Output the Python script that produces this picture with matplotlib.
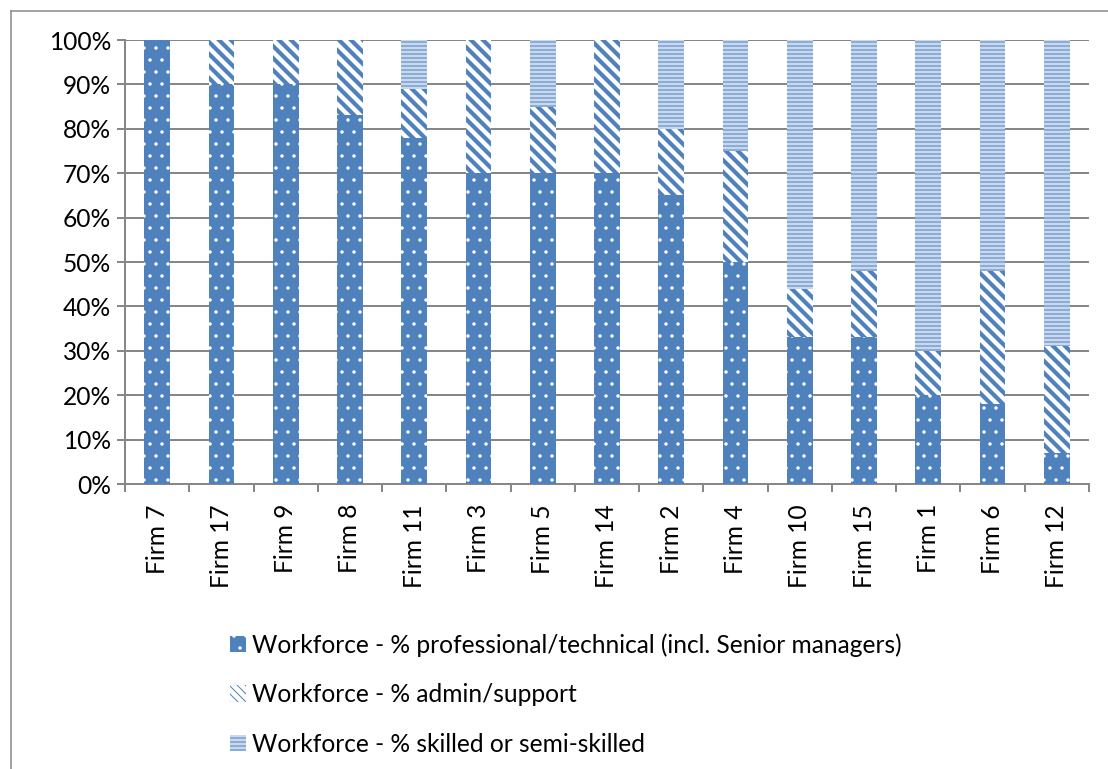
import matplotlib
matplotlib.use("Agg")
import matplotlib.pyplot as plt
from matplotlib.lines import Line2D
from matplotlib.patches import Patch
from matplotlib.collections import LineCollection
from matplotlib.transforms import IdentityTransform, Bbox
import numpy as np

categories = ["Firm 7", "Firm 17", "Firm 9", "Firm 8", "Firm 11", "Firm 3", "Firm 5",
              "Firm 14", "Firm 2", "Firm 4", "Firm 10", "Firm 15", "Firm 1", "Firm 6", "Firm 12"]
professional = [100, 90, 90, 83, 78, 70, 70, 70, 65, 50, 33, 33, 20, 18, 7]
admin = [0, 10, 10, 17, 11, 30, 15, 30, 15, 25, 11, 15, 10, 30, 24]
skilled = [0, 0, 0, 0, 11, 0, 15, 0, 20, 25, 56, 52, 70, 52, 69]
series_labels = ["Workforce - % professional/technical (incl. Senior managers)",
                 "Workforce - % admin/support",
                 "Workforce - % skilled or semi-skilled"]
yticks = [0, 10, 20, 30, 40, 50, 60, 70, 80, 90, 100]

plt.rcParams['font.family'] = ['Lato', 'DejaVu Sans']
plt.rcParams['hatch.linewidth'] = 1.0

DPI = 72
W, H = 1108, 769
FS = 24.5
fig = plt.figure(figsize=(W / DPI, H / DPI), dpi=DPI)
fig.patch.set_facecolor('white')

L, R, T, B = 125, 1089, 40, 484
ax = fig.add_axes([L / W, 1 - B / H, (R - L) / W, (B - T) / H])

grey = '#878787'
blue = '#4F81BD'
x = np.arange(len(categories))
prof = np.array(professional)
adm = np.array(admin)
skl = np.array(skilled)

ax.set_xlim(-0.5, len(categories) - 0.5)
ax.set_ylim(0, 100)

b1 = ax.bar(x, prof, 0.4, color=blue, edgecolor='white', linewidth=0,
            hatch='.', label=series_labels[0], zorder=3)
b2 = ax.bar(x, adm, 0.4, bottom=prof, color='white', linewidth=0,
            label=series_labels[1], zorder=3)
b3 = ax.bar(x, skl, 0.4, bottom=prof + adm, color='#c9d8ec', edgecolor='#4F81BD', linewidth=0,
            hatch='---', label=series_labels[2], zorder=3)

# thick diagonal stripes for the admin/support segments, clipped to each bar
period = 12.0
stripe_lw = 4.2
for rect in b2:
    if rect.get_height() <= 0:
        continue
    bb = rect.get_window_extent(renderer=None)
    cmin = bb.x0 + bb.y0 - period
    cmax = bb.x1 + bb.y1 + period
    segs = []
    for c in np.arange(np.floor(cmin / period) * period, cmax, period):
        xa, xb = bb.x0 - 10, bb.x1 + 10
        segs.append([(xa, c - xa), (xb, c - xb)])
    lc = LineCollection(segs, colors=blue, linewidths=stripe_lw,
                        transform=IdentityTransform(), zorder=3.5)
    ax.add_collection(lc, autolim=False)
    lc.set_clip_path(None)
    lc.set_clip_box(Bbox.from_extents(bb.x0, bb.y0, bb.x1, bb.y1))
    lc.set_clip_on(True)

ax.set_yticks(yticks)
ax.set_yticklabels([f"{v}%" for v in yticks], fontsize=FS)
ax.yaxis.grid(True, color=grey, linewidth=2, zorder=0)
ax.set_axisbelow(True)

ax.set_xticks(x)
ax.set_xticklabels(categories, rotation=90, fontsize=FS, va='top', ha='center')
ax.set_xticks(np.arange(-0.5, len(categories), 1), minor=True)
ax.tick_params(axis='x', which='major', length=0, pad=20)
ax.tick_params(axis='x', which='minor', length=8, width=2, color=grey, direction='out')
ax.tick_params(axis='y', length=8, width=2, color=grey, direction='out', pad=6)

for s in ['top', 'right']:
    ax.spines[s].set_visible(False)
for s in ['left', 'bottom']:
    ax.spines[s].set_color(grey)
    ax.spines[s].set_linewidth(2)

admin_handle = Patch(facecolor='white', edgecolor=blue, linewidth=0, hatch='\\\\\\',
                     label=series_labels[1])
leg = fig.legend(handles=[b1, admin_handle, b3], loc='upper left',
                 bbox_to_anchor=(230 / W, 1 - 633 / H), frameon=False,
                 fontsize=FS, handlelength=0.65, handleheight=0.65,
                 handletextpad=0.25, labelspacing=1.08, borderpad=0, borderaxespad=0)

# outer chart border (left and top visible)
fig.add_artist(Line2D([11 / W, 11 / W], [0, 1 - 11 / H], color=grey, linewidth=1.5,
                      transform=fig.transFigure))
fig.add_artist(Line2D([11 / W, 1], [1 - 11 / H, 1 - 11 / H], color=grey, linewidth=1.5,
                      transform=fig.transFigure))

fig.savefig('out.png', dpi=DPI, facecolor='white')
